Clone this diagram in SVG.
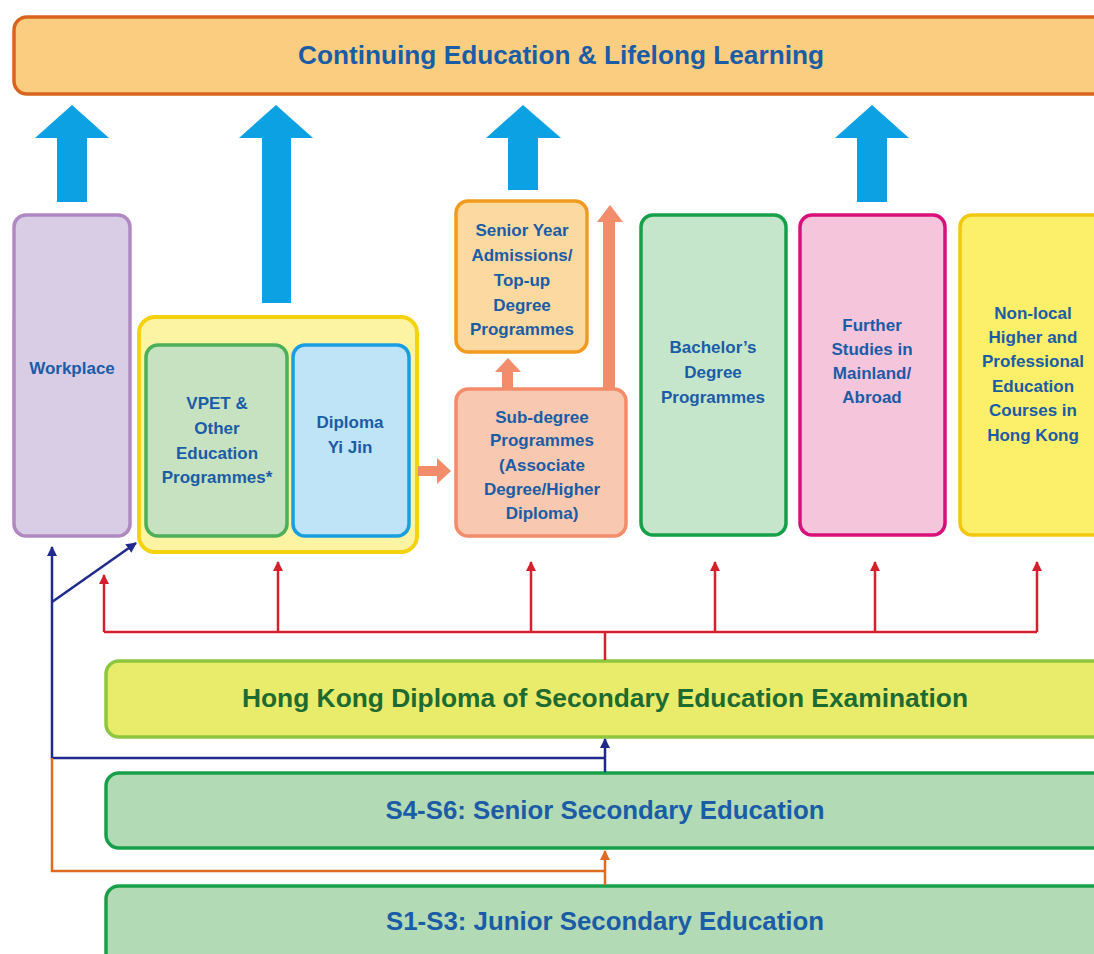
<svg xmlns="http://www.w3.org/2000/svg" width="1094" height="954" viewBox="0 0 1094 954">
<defs>
<style>
.t{font-family:"Liberation Sans",Arial,sans-serif;font-weight:bold;fill:#1b5ca6;text-anchor:middle}
.s{font-size:17px}
.b{font-size:26px}
.big{fill:#0ba1e2}
.red{stroke:#d4202c;stroke-width:2.5;fill:none}
.navy{stroke:#1f2a8c;stroke-width:2.5;fill:none}
.org{stroke:#e06a20;stroke-width:2.5;fill:none}
.sal{fill:#f28c6a}
</style>
<marker id="mr" viewBox="0 0 10 10" refX="9" refY="5" markerWidth="4.2" markerHeight="4.2" markerUnits="strokeWidth" orient="auto"><path d="M0,0L10,5L0,10z" fill="#d4202c"/></marker>
<marker id="mn" viewBox="0 0 10 10" refX="9" refY="5" markerWidth="4.2" markerHeight="4.2" markerUnits="strokeWidth" orient="auto"><path d="M0,0L10,5L0,10z" fill="#1f2a8c"/></marker>
<marker id="mo" viewBox="0 0 10 10" refX="9" refY="5" markerWidth="4.2" markerHeight="4.2" markerUnits="strokeWidth" orient="auto"><path d="M0,0L10,5L0,10z" fill="#e06a20"/></marker>
</defs>
<rect width="1094" height="954" fill="#ffffff"/>

<g id="continuing">
<rect x="14" y="17" width="1096" height="77" rx="13" fill="#fbcd80" stroke="#d9641e" stroke-width="3.5"/>
<text class="t b" x="561" y="64" textLength="526" lengthAdjust="spacingAndGlyphs">Continuing Education &amp; Lifelong Learning</text>
</g>

<g id="blue-arrows">
<path class="big" d="M72,105L109,138H87V202H57V138H35Z"/>
<path class="big" d="M276,105L313,138H291V303H262V138H239Z"/>
<path class="big" d="M523,105L561,138H538V190H508V138H486Z"/>
<path class="big" d="M872,105L909,138H887V202H857V138H835Z"/>
</g>

<g id="workplace">
<rect x="14" y="215" width="116" height="321" rx="12" fill="#d9cde6" stroke="#b089c2" stroke-width="3.5"/>
<text class="t s" x="72" y="374">Workplace</text>
</g>

<g id="sub-secondary-group">
<rect x="139" y="317" width="278" height="235" rx="16" fill="#fcf3a3" stroke="#f5d20e" stroke-width="4"/>
</g>

<g id="vpet">
<rect x="146" y="345" width="141" height="191" rx="12" fill="#c6e2c0" stroke="#4daf5a" stroke-width="3.5"/>
<text class="t s" x="217" y="409">VPET &amp;</text>
<text class="t s" x="217" y="434">Other</text>
<text class="t s" x="217" y="459">Education</text>
<text class="t s" x="217" y="483">Programmes*</text>
</g>

<g id="diploma-yi-jin">
<rect x="293" y="345" width="116" height="191" rx="12" fill="#bfe3f7" stroke="#1a9ee3" stroke-width="3.5"/>
<text class="t s" x="350" y="428">Diploma</text>
<text class="t s" x="350" y="453">Yi Jin</text>
</g>

<g id="senior-year">
<rect x="456" y="201" width="131" height="151" rx="12" fill="#fcd9a0" stroke="#f29a1f" stroke-width="3.5"/>
<text class="t s" x="522" y="236">Senior Year</text>
<text class="t s" x="522" y="261">Admissions/</text>
<text class="t s" x="522" y="286">Top-up</text>
<text class="t s" x="522" y="311">Degree</text>
<text class="t s" x="522" y="335">Programmes</text>
</g>

<g id="sub-degree">
<rect x="456" y="389" width="170" height="147" rx="12" fill="#f8c8b0" stroke="#f28c6a" stroke-width="3.5"/>
<text class="t s" x="542" y="423">Sub-degree</text>
<text class="t s" x="542" y="446">Programmes</text>
<text class="t s" x="542" y="471">(Associate</text>
<text class="t s" x="542" y="495">Degree/Higher</text>
<text class="t s" x="542" y="519">Diploma)</text>
</g>

<g id="bachelor">
<rect x="641" y="215" width="145" height="320" rx="12" fill="#c6e6cc" stroke="#16a04a" stroke-width="3.5"/>
<text class="t s" x="713" y="353">Bachelor’s</text>
<text class="t s" x="713" y="378">Degree</text>
<text class="t s" x="713" y="403">Programmes</text>
</g>

<g id="further-studies">
<rect x="800" y="215" width="145" height="320" rx="12" fill="#f5c5dc" stroke="#d9107a" stroke-width="3.5"/>
<text class="t s" x="872" y="331">Further</text>
<text class="t s" x="872" y="355">Studies in</text>
<text class="t s" x="872" y="379">Mainland/</text>
<text class="t s" x="872" y="403">Abroad</text>
</g>

<g id="non-local">
<rect x="960" y="215" width="150" height="320" rx="12" fill="#fcef6a" stroke="#f2c80f" stroke-width="3.5"/>
<text class="t s" x="1033" y="319">Non-local</text>
<text class="t s" x="1033" y="343">Higher and</text>
<text class="t s" x="1033" y="367">Professional</text>
<text class="t s" x="1033" y="392">Education</text>
<text class="t s" x="1033" y="416">Courses in</text>
<text class="t s" x="1033" y="441">Hong Kong</text>
</g>

<g id="hkdse">
<rect x="106" y="661" width="1004" height="76" rx="13" fill="#e9eb6b" stroke="#8dc63f" stroke-width="3.5"/>
<text class="t b" x="605" y="707" style="fill:#1d6b30" textLength="726" lengthAdjust="spacingAndGlyphs">Hong Kong Diploma of Secondary Education Examination</text>
</g>

<g id="senior-secondary">
<rect x="106" y="773" width="1004" height="75" rx="13" fill="#b2dab5" stroke="#17a049" stroke-width="3.5"/>
<text class="t b" x="605" y="819" textLength="439" lengthAdjust="spacingAndGlyphs">S4-S6: Senior Secondary Education</text>
</g>

<g id="junior-secondary">
<rect x="106" y="886" width="1004" height="80" rx="13" fill="#b2dab5" stroke="#17a049" stroke-width="3.5"/>
<text class="t b" x="605" y="930" textLength="438" lengthAdjust="spacingAndGlyphs">S1-S3: Junior Secondary Education</text>
</g>

<g id="connectors">
<path class="sal" d="M418,466H437V458L451,471L437,484V476H418Z"/>
<path class="sal" d="M502,389V372H495L508,358L521,372H513V389Z"/>
<path class="sal" d="M603,389V222H597L610,205L623,222H615V389Z"/>

<path class="red" d="M104,632H1037"/>
<path class="red" d="M605,632V660"/>
<path class="red" d="M104,632V575" marker-end="url(#mr)"/>
<path class="red" d="M278,632V562" marker-end="url(#mr)"/>
<path class="red" d="M531,632V562" marker-end="url(#mr)"/>
<path class="red" d="M715,632V562" marker-end="url(#mr)"/>
<path class="red" d="M875,632V562" marker-end="url(#mr)"/>
<path class="red" d="M1037,632V562" marker-end="url(#mr)"/>

<path class="navy" d="M605,758H52V547" marker-end="url(#mn)"/>
<path class="navy" d="M52,602L136,543" marker-end="url(#mn)"/>
<path class="navy" d="M605,772V739" marker-end="url(#mn)"/>

<path class="org" d="M605,871H52V758"/>
<path class="org" d="M605,885V851" marker-end="url(#mo)"/>
</g>
</svg>
